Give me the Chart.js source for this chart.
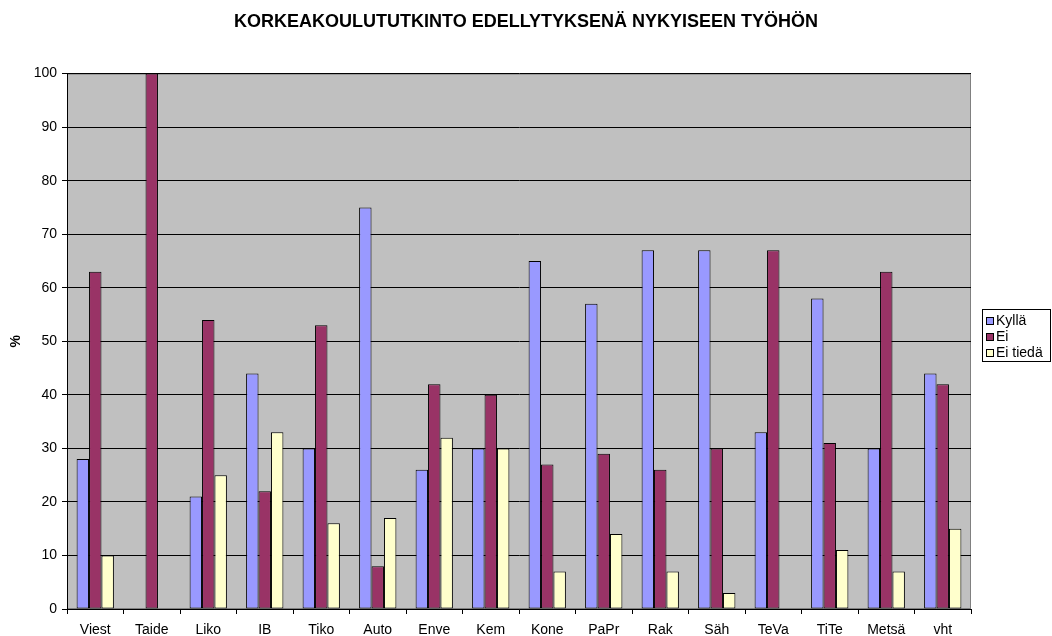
<!doctype html>
<html>
<head>
<meta charset="utf-8">
<title>Korkeakoulututkinto</title>
<script src="https://cdn.jsdelivr.net/npm/chart.js"></script>
<style>
  html, body { margin: 0; padding: 0; background: #fff; overflow: hidden; }
</style>
</head>
<body>
<canvas id="myChart" width="1052" height="636"></canvas>
<script>
const categories = ['Viest', 'Taide', 'Liko', 'IB', 'Tiko', 'Auto', 'Enve', 'Kem',
                    'Kone', 'PaPr', 'Rak', 'Säh', 'TeVa', 'TiTe', 'Metsä', 'vht'];
const kylla = [28, 0, 21, 44, 30, 75, 26, 30, 65, 57, 67, 67, 33, 58, 30, 44];
const ei = [63, 100, 54, 22, 53, 8, 42, 40, 27, 29, 26, 30, 67, 31, 63, 42];
const eiTieda = [10, 0, 25, 33, 16, 17, 32, 30, 7, 14, 7, 3, 0, 11, 7, 15];
const seriesNames = ['Kyllä', 'Ei', 'Ei tiedä'];
const yTicks = [0, 10, 20, 30, 40, 50, 60, 70, 80, 90, 100];

const font = '"Liberation Sans", Arial, sans-serif';

// gray plot background + frame
const plotBg = {
    id: 'plotBg',
    afterLayout(chart) {
        // centre the title over the whole canvas, not just the plot side
        const t = chart.titleBlock;
        if (t) { t.left = 0; t.right = chart.width; t.width = chart.width; }
    },
    beforeDraw(chart) {
        const a = chart.chartArea, c = chart.ctx;
        c.save();
        c.fillStyle = '#c0c0c0';
        c.fillRect(a.left, a.top, a.right - a.left, a.bottom - a.top);
        c.strokeStyle = '#808080';
        c.lineWidth = 1;
        c.strokeRect(a.left + 0.5, a.top + 0.5, a.right - a.left - 1, a.bottom - a.top - 1);
        c.restore();
    }
};

// Excel-style boxed legend to the right of the plot
const sideLegend = {
    id: 'sideLegend',
    afterDraw(chart) {
        const c = chart.ctx, a = chart.chartArea;
        const ds = chart.data.datasets;
        const left = a.right + 11, step = 16;
        const top = Math.round((a.top + a.bottom) / 2 - 32);
        c.save();
        c.strokeStyle = '#000';
        c.lineWidth = 1;
        c.strokeRect(left + 0.5, top + 0.5, 68, ds.length * step + 4);
        c.font = '14px ' + font;
        c.textBaseline = 'middle';
        ds.forEach((d, i) => {
            const y = top + 12 + i * step;
            c.fillStyle = d.backgroundColor;
            c.fillRect(left + 4, y - 4, 8, 8);
            c.strokeStyle = '#000';
            c.strokeRect(left + 4.5, y - 3.5, 7, 7);
            c.fillStyle = '#000';
            c.fillText(d.label, left + 14, y);
        });
        c.restore();
    }
};

const colors = ['#9999ff', '#993366', '#ffffcc'];
const datasets = [kylla, ei, eiTieda].map((d, i) => ({
    label: seriesNames[i],
    data: d,
    backgroundColor: colors[i],
    borderColor: '#000',
    borderWidth: 1,
    borderSkipped: false,
    categoryPercentage: 0.66,
    barPercentage: 1.0
}));

new Chart(document.getElementById('myChart'), {
    type: 'bar',
    data: { labels: categories, datasets: datasets },
    plugins: [plotBg, sideLegend],
    options: {
        responsive: false,
        animation: false,
        devicePixelRatio: 1,
        layout: { padding: { left: 0, right: 81, top: 0, bottom: 0 } },
        plugins: {
            title: {
                display: true,
                text: 'KORKEAKOULUTUTKINTO EDELLYTYKSENÄ NYKYISEEN TYÖHÖN',
                color: '#000',
                font: { family: font, size: 18, weight: 'bold' },
                padding: { top: 11, bottom: 41 }
            },
            legend: { display: false },
            tooltip: { enabled: false }
        },
        scales: {
            x: {
                offset: true,
                afterFit(axis) { axis.height = 27; },
                grid: {
                    offset: true,
                    drawOnChartArea: false,
                    color: '#000',
                    tickLength: 5,
                    tickColor: '#000'
                },
                border: { color: '#000' },
                ticks: {
                    color: '#000',
                    font: { family: font, size: 14 },
                    maxRotation: 0,
                    autoSkip: false,
                    padding: 8
                }
            },
            y: {
                min: 0,
                max: 100,
                afterBuildTicks(axis) { axis.ticks = yTicks.map(v => ({ value: v })); },
                afterFit(axis) { axis.width = 67; },
                grid: { color: '#000', tickLength: 5, tickColor: '#000' },
                border: { color: '#000' },
                ticks: {
                    color: '#000',
                    font: { family: font, size: 14 },
                    autoSkip: false,
                    padding: 5
                },
                title: {
                    display: true,
                    text: '%',
                    color: '#000',
                    font: { family: font, size: 14, weight: 'bold' },
                    padding: { top: 8, bottom: 0 }
                }
            }
        }
    }
});
</script>
</body>
</html>
